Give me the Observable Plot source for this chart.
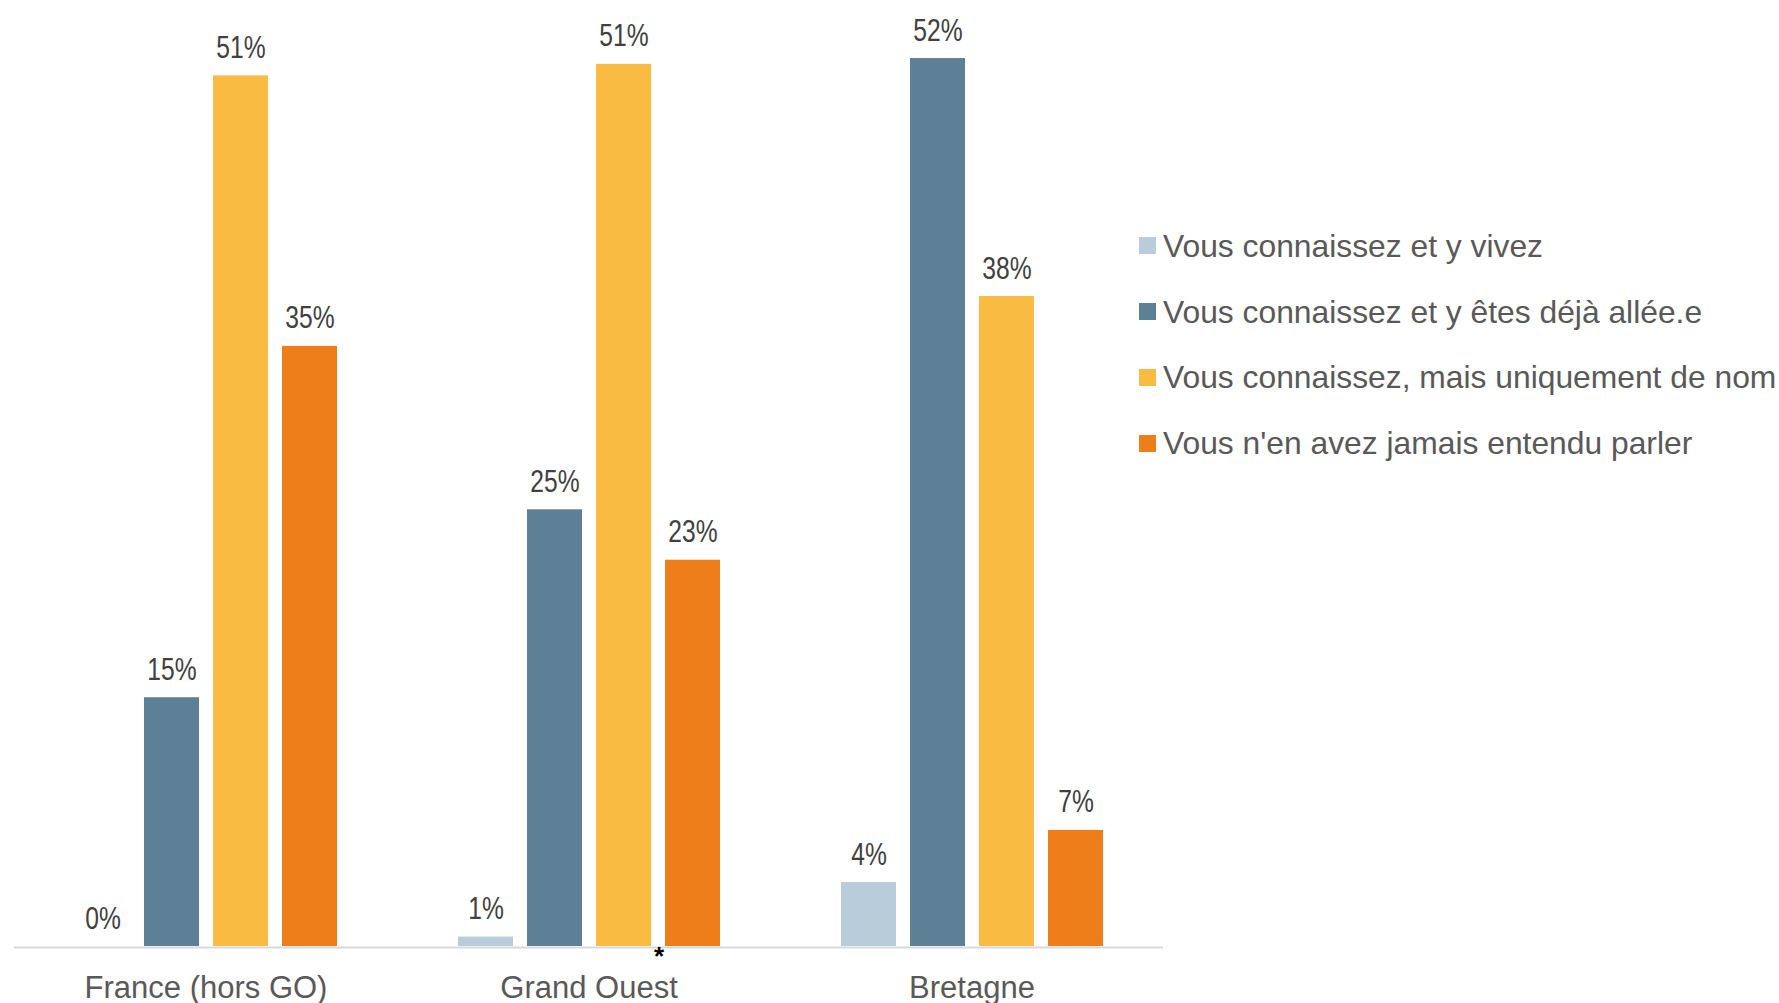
<!DOCTYPE html>
<html>
<head>
<meta charset="utf-8">
<script src="https://cdn.jsdelivr.net/npm/d3@7"></script>
<script src="https://cdn.jsdelivr.net/npm/@observablehq/plot@0.6"></script>
<style>
  html, body { margin: 0; padding: 0; background: #ffffff; }
  #wrap { position: relative; width: 1779px; height: 1003px; overflow: hidden; }
  #legend { position: absolute; left: 1139px; top: 227.8px; font-family: "Liberation Sans", Arial, sans-serif; font-size: 31.8px; color: #595959; }
  #legend .row { height: 65.8px; line-height: 36px; white-space: nowrap; }
  #legend .sw { display: inline-block; width: 17px; height: 17px; margin-right: 7px; vertical-align: 2.7px; }
</style>
</head>
<body>
<div id="wrap"></div>
<script>
const regions = ["France (hors GO)", "Grand Ouest", "Bretagne"];
const series = [
  "Vous connaissez et y vivez",
  "Vous connaissez et y êtes déjà allée.e",
  "Vous connaissez, mais uniquement de nom",
  "Vous n'en avez jamais entendu parler"
];
const colors = ["#b8ccd9", "#5e8096", "#fabb43", "#ee7e19"];
const franceValues = [0, 14.51, 50.78, 35.0];
const grandOuestValues = [0.55, 25.47, 51.45, 22.53];
const bretagneValues = [3.73, 51.79, 37.91, 6.77];
const yDomain = [0, 55];
const footnoteRegion = "Grand Ouest";
const footnoteSeries = series[2];
const footnoteMark = "*";

const valuesByRegion = [franceValues, grandOuestValues, bretagneValues];
const data = regions.flatMap((r, i) =>
  valuesByRegion[i].map((v, j) => ({region: r, series: series[j], value: v}))
);
const footnote = [{region: footnoteRegion, series: footnoteSeries, text: footnoteMark}];

const chart = Plot.plot({
  width: 1779,
  height: 1003,
  marginLeft: 13,
  marginRight: 615,
  marginTop: 3,
  marginBottom: 57,
  style: {fontFamily: "'Liberation Sans', Arial, sans-serif", background: "#ffffff", overflow: "visible"},
  fx: {domain: regions, padding: 0, label: null},
  x: {domain: series, paddingInner: 0.209, paddingOuter: 0.865, axis: null},
  y: {domain: yDomain, axis: null},
  color: {domain: series, range: colors},
  marks: [
    Plot.barY(data, {fx: "region", x: "series", y: "value", fill: "series"}),
    Plot.ruleY([0], {stroke: "#d9d9d9", strokeWidth: 2, dy: 1}),
    Plot.text(data, {
      fx: "region", x: "series", y: "value",
      text: d => Math.round(d.value) + "%",
      lineAnchor: "bottom", dy: -18, fontSize: 32, fill: "#404040"
    }),
    Plot.text(footnote, {
      fx: "region", x: "series", y: () => 0, text: "text",
      lineAnchor: "top", dx: 35, dy: 0, fontSize: 26, fontWeight: "bold", fill: "#000000"
    }),
    Plot.axisFx({anchor: "bottom", tickSize: 0, tickPadding: 29, fontSize: 31, color: "#595959", label: null})
  ]
});

// condense the value labels horizontally (the reference uses a narrow face for them)
chart.querySelectorAll("text").forEach(el => {
  if (!/%$/.test(el.textContent.trim())) return;
  const t = el.getAttribute("transform");
  if (t) {
    el.setAttribute("transform", t + " scale(0.77,1)");
  } else {
    const x = +el.getAttribute("x") || 0;
    el.removeAttribute("x");
    el.setAttribute("transform", `translate(${x},0) scale(0.77,1)`);
  }
});

const wrap = document.getElementById("wrap");
wrap.appendChild(chart);

const legend = document.createElement("div");
legend.id = "legend";
series.forEach((s, i) => {
  const row = document.createElement("div");
  row.className = "row";
  const sw = document.createElement("span");
  sw.className = "sw";
  sw.style.background = colors[i];
  row.appendChild(sw);
  row.appendChild(document.createTextNode(s));
  legend.appendChild(row);
});
wrap.appendChild(legend);
</script>
</body>
</html>
